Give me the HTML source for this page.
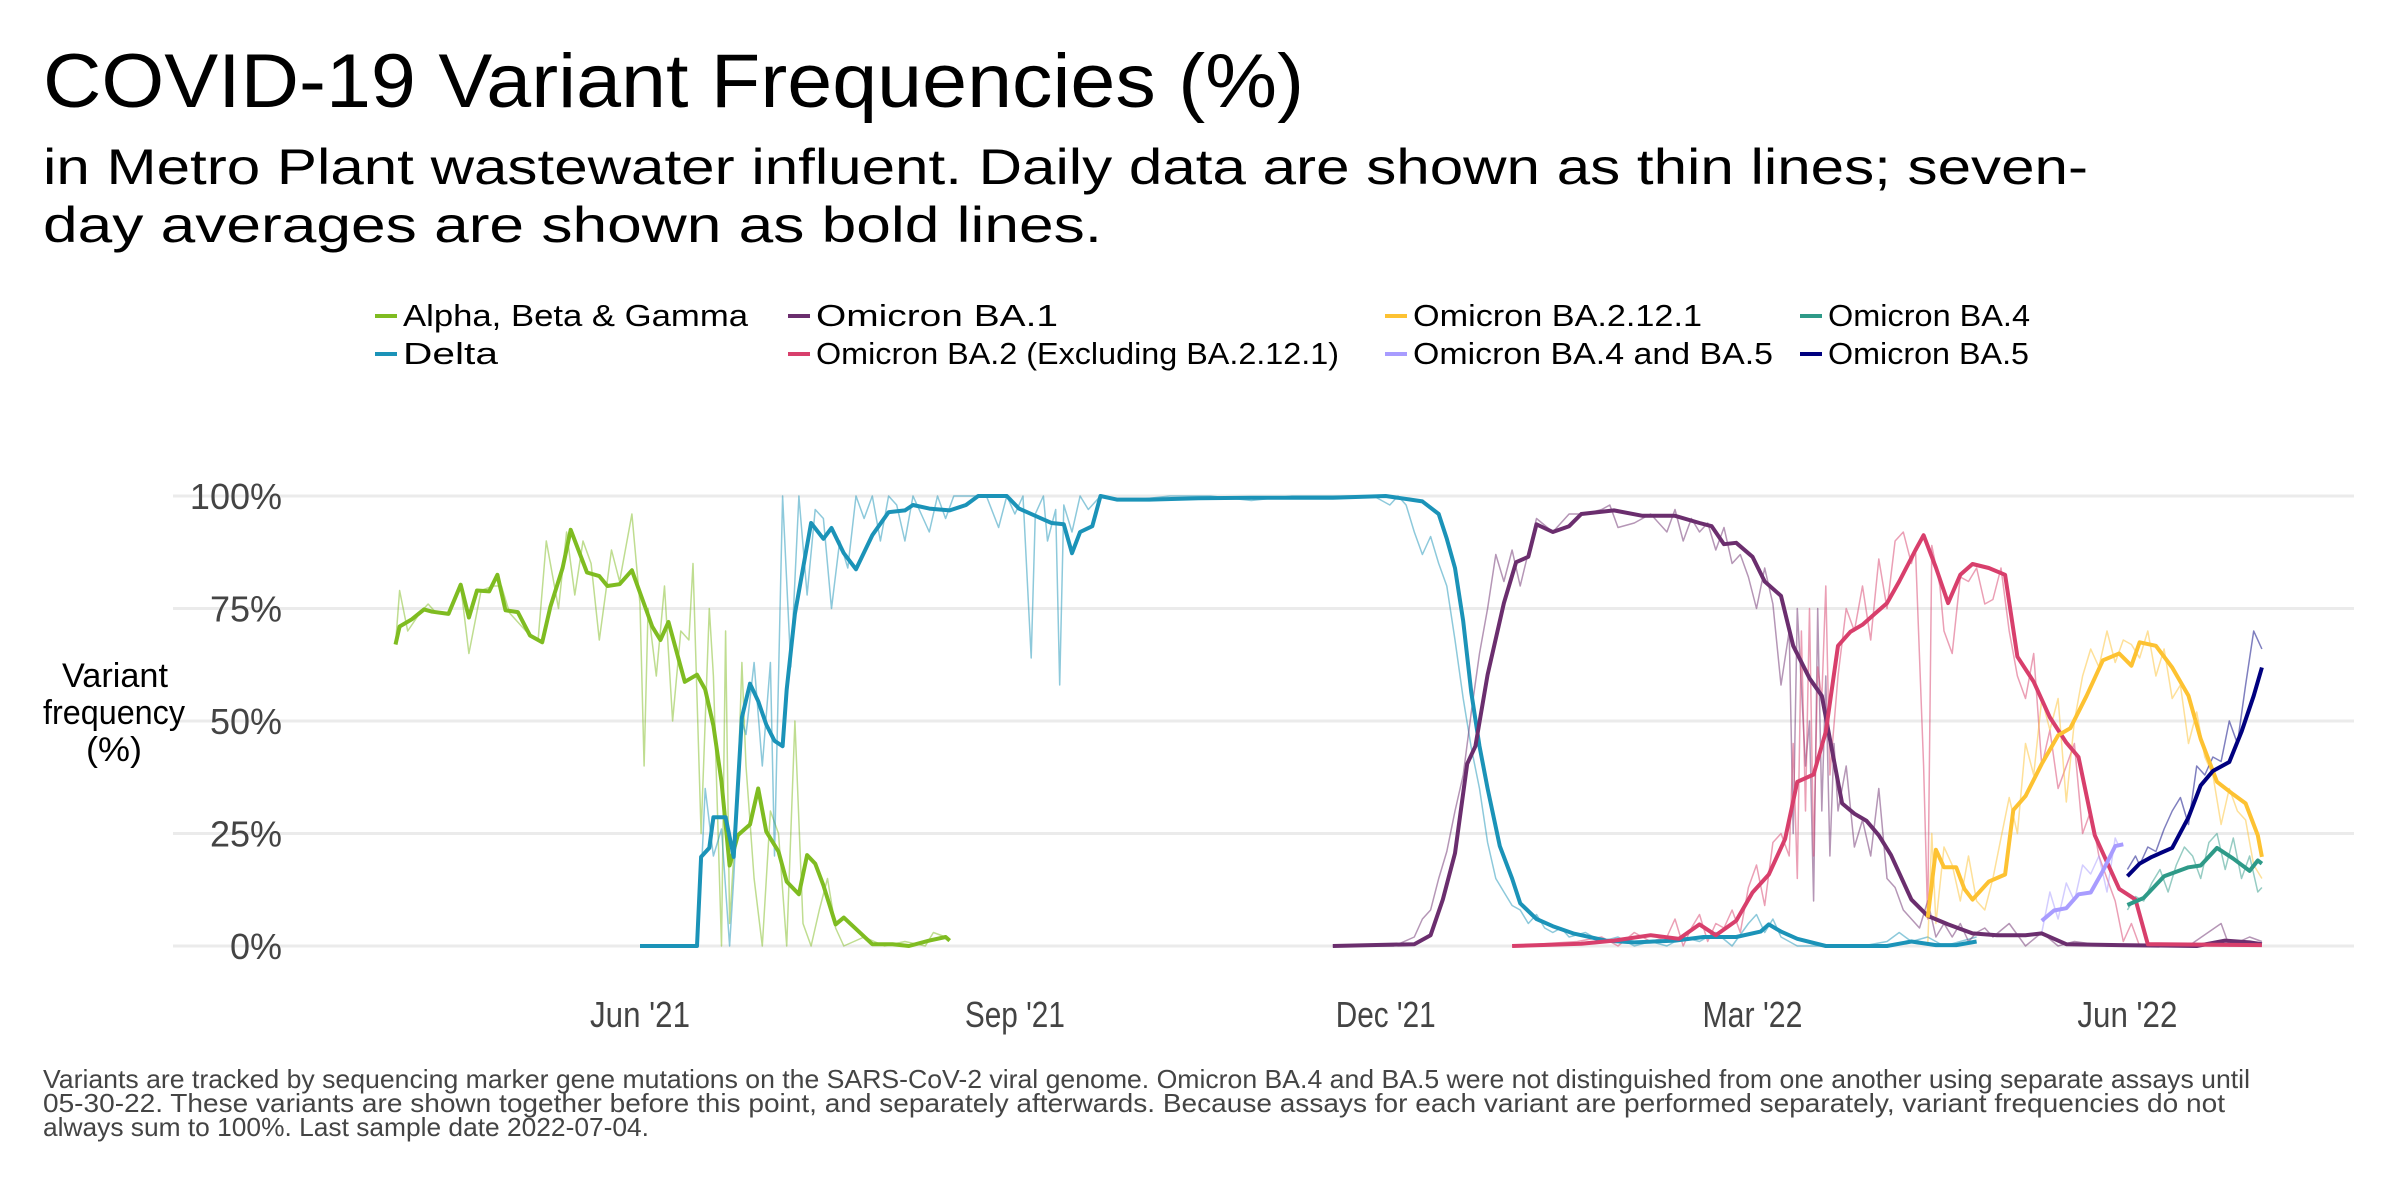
<!DOCTYPE html>
<html><head><meta charset="utf-8"><style>
html,body{margin:0;padding:0;background:#fff;}
svg{display:block;font-family:"Liberation Sans",Arial,sans-serif;}
</style></head><body>
<svg id="chart" width="2400" height="1200" viewBox="0 0 2400 1200">
<text x="43" y="107" font-size="76" fill="#000" textLength="1261" lengthAdjust="spacingAndGlyphs">COVID-19 Variant Frequencies (%)</text>
<text x="43" y="184" font-size="50" fill="#000" textLength="2045" lengthAdjust="spacingAndGlyphs">in Metro Plant wastewater influent. Daily data are shown as thin lines; seven-</text>
<text x="43" y="242" font-size="50" fill="#000" textLength="1059" lengthAdjust="spacingAndGlyphs">day averages are shown as bold lines.</text>
<g id="legend"></g>
<g id="grid"></g>
<g id="yticks"></g>
<g id="xticks"></g>
<g font-size="34" fill="#000" text-anchor="middle">
<text x="115" y="687" textLength="106" lengthAdjust="spacingAndGlyphs">Variant</text>
<text x="114" y="724" textLength="142" lengthAdjust="spacingAndGlyphs">frequency</text>
<text x="114" y="761" textLength="56" lengthAdjust="spacingAndGlyphs">(%)</text>
</g>
<g id="daily"></g>
<g id="avg"></g>
<g font-size="26" fill="#444">
<text x="43" y="1088" textLength="2207" lengthAdjust="spacingAndGlyphs">Variants are tracked by sequencing marker gene mutations on the SARS-CoV-2 viral genome. Omicron BA.4 and BA.5 were not distinguished from one another using separate assays until</text>
<text x="43" y="1112" textLength="2182" lengthAdjust="spacingAndGlyphs">05-30-22. These variants are shown together before this point, and separately afterwards. Because assays for each variant are performed separately, variant frequencies do not</text>
<text x="43" y="1136" textLength="606" lengthAdjust="spacingAndGlyphs">always sum to 100%. Last sample date 2022-07-04.</text>
</g>
</svg>
<script>
// Days since 2021-06-01 and frequency (%)
const yTicks = [0, 25, 50, 75, 100];
const yTickLabels = ["0%", "25%", "50%", "75%", "100%"];
const xTickDays = [0, 92, 183, 273, 365];
const xTickLabels = ["Jun '21", "Sep '21", "Dec '21", "Mar '22", "Jun '22"];

const alphaAvgDays = [-60,-59,-56,-53,-51,-47,-44,-42,-40,-37,-35,-33,-30,-27,-24,-22,-19,-17,-13,-10,-8,-5,-2,1,3,5,7,11,14,16,18,20,22,24,27,29,31,34,36,39,41,43,45,48,50,57,62,66,71,75,76];
const alphaAvgVals = [67,71,72.6,74.8,74.3,73.8,80.3,73,79,78.8,82.5,74.6,74.2,69,67.5,75.4,84,92.5,83,82.2,80,80.4,83.5,76,71,68,72,58.7,60.3,57,49,36.5,17.9,24.6,27,35,25.4,21,14.3,11.5,20.2,18.3,13.5,4.8,6.3,0.4,0.4,0,1.2,2,1.2];
const alphaDailyDays = [-60,-59,-57,-54,-52,-50,-47,-44,-42,-39,-36,-34,-32,-28,-25,-23,-20,-18,-16,-14,-12,-10,-7,-5,-2,0,1,2,4,6,8,10,12,13,15,17,18,20,21,22,24,25,26,28,30,32,34,36,38,40,42,44,46,48,50,55,60,65,70,72,75];
const alphaDailyVals = [67,79,70,74,76,74,74,80,65,79,80,80,74,70,68,90,75,92,78,90,85,68,88,81,96,76,40,75,60,80,50,70,68,85,25,75,60,0,70,5,35,63,40,15,0,30,25,0,50,5,0,8,15,4,0,2,0,1,0,3,2];

const deltaAvgDays = [0,14,15,17,18,21,23,25,27,29,31,33,35,36,38,42,45,47,50,53,57,61,65,67,71,76,80,83,90,93,97,99,101,104,106,108,111,113,117,125,137,150,170,183,192,196,198,200,202,204,206,208,211,214,216,220,224,229,237,244,254,261,269,275,277,280,284,291,306,312,318,323,328];
const deltaAvgVals = [0,0,19.8,21.8,28.6,28.6,19.8,50.8,58.3,54.4,49.2,45.6,44.4,57,73.8,94,90.5,92.9,87.3,83.7,91.3,96.4,96.8,98,97.2,96.8,98,100,100,97.2,95.6,94.8,94,93.7,87.3,92,93.3,100,99.2,99.2,99.5,99.6,99.6,100,98.8,96,90.5,84,72.2,56.3,44.4,35,22.2,15,9.5,6,4.4,2.8,1.2,0.8,1.2,2,2,3.2,4.8,3.2,1.6,0,0,1,0.2,0.2,1];
const deltaDailyDays = [0,14,15,16,18,20,22,23,25,26,28,30,32,33,35,37,39,41,43,45,47,49,51,53,55,57,59,61,63,65,67,69,71,73,75,77,80,85,88,90,92,94,96,97,99,100,102,103,104,106,108,110,113,120,130,140,150,160,170,180,184,186,188,190,192,194,196,198,200,202,204,206,208,210,212,214,216,218,220,222,224,226,228,232,236,240,244,248,252,256,260,264,268,272,274,276,278,280,284,290,300,306,309,312,316,320,324,328];
const deltaDailyVals = [0,0,15,35,20,26,0,15,50,47,63,40,63,20,100,62,100,78,97,95,75,90,84,100,95,100,90,100,98,90,100,96,92,100,95,100,100,100,93,100,96,100,64,96,100,90,97,58,98,92,100,97,100,99,100,100,99,100,100,100,98,100,98,92,87,91,85,80,68,55,44,35,23,15,12,9,8,5,7,4,3,4,2,3,1,2,0,1,0,2,1,3,0,5,7,3,6,2,0,0,0,1,3,1,2,0,1,2];

const ba1AvgDays = [170,190,194,197,200,203,205,208,212,215,218,220,224,228,231,239,246,254,260,263,266,269,273,276,280,283,287,290,292,295,298,301,304,307,312,316,321,327,333,340,344,350,363,382,389,395,398];
const ba1AvgVals = [0,0.4,2.4,10.3,20.6,40.5,44.4,60.3,76.2,85.3,86.5,93.7,92,93.3,96,96.8,95.6,95.6,94,93.3,89.3,89.6,86.5,81,77.8,66.7,59.5,55.6,46,31.7,29.4,27.8,24.6,20.2,10.3,6.7,4.8,2.8,2.4,2.4,2.8,0.4,0.2,0,1.2,0.8,0.4];
const ba1DailyDays = [170,185,190,192,194,196,198,200,202,204,206,208,210,212,214,216,220,224,228,232,236,238,240,244,248,252,254,256,258,260,262,264,266,268,270,272,274,276,278,280,282,283,284,286,287,288,289,290,291,292,293,294,296,298,300,302,304,306,308,310,312,314,316,318,320,322,324,326,328,330,332,336,340,344,348,352,360,370,380,388,390,395,398];
const ba1DailyVals = [0,0,2,6,8,15,21,30,38,52,65,75,87,81,88,80,95,92,96,96,97,98,93,94,96,92,97,90,95,92,94,88,93,85,87,82,75,84,76,58,70,25,75,40,50,10,75,30,60,20,45,30,40,22,28,20,35,15,13,8,6,4,10,2,5,2,5,1,3,4,2,5,0,3,0,1,0,0,0,5,0,2,1];

const ba2AvgDays = [214,231,239,248,255,260,264,269,273,277,281,284,288,291,294,297,300,303,306,309,313,315,318,321,324,327,331,335,338,342,346,350,353,357,363,367,370,398];
const ba2AvgVals = [0,0.5,1.2,2.4,1.6,4.8,2.4,5.6,11.9,15.9,23.8,36.5,38.1,47.6,66.7,69.8,71.4,73.8,76.2,81,88,91.3,84.1,76.2,82.5,84.9,84,82.5,64.3,58.7,50.8,45.2,42,24.6,12.7,10.3,0.4,0.2];
const ba2DailyDays = [214,230,236,240,244,248,252,254,256,258,260,262,264,266,268,270,272,274,276,278,280,282,283,284,285,286,287,288,289,290,291,292,294,296,298,300,302,304,306,308,310,312,313,315,316,317,319,320,322,324,326,328,330,332,334,336,338,340,342,344,346,348,350,352,354,356,358,360,362,364,366,368,380,398];
const ba2DailyVals = [0,1,2,0,3,1,2,6,0,4,7,1,5,4,8,3,13,18,9,23,25,20,45,15,70,30,75,20,62,55,80,38,60,75,70,80,68,86,75,90,92,85,88,40,6,89,80,70,65,82,81,84,76,77,84,70,60,55,65,40,48,35,40,45,25,30,20,15,10,1,5,0,0,0];

const ba2121AvgDays = [316,318,320,323,325,327,331,335,337,340,344,348,351,355,359,363,366,368,372,376,380,383,387,391,394,397,398];
const ba2121AvgVals = [6.3,21.4,17.5,17.5,12.7,10.3,14.3,15.9,30.2,33.3,40.5,46.8,48.4,55.6,63.5,65,62.3,67.5,66.7,61.9,55.6,46,36.5,33.7,31.7,24.6,19.8];
const ba2121DailyDays = [316,317,318,320,322,324,326,328,330,332,334,336,338,340,342,344,346,348,350,352,354,356,358,360,362,364,366,368,370,372,374,376,378,380,382,384,386,388,390,392,394,396,398];
const ba2121DailyVals = [0,25,5,22,18,10,20,10,8,15,24,33,25,45,38,55,48,55,32,50,60,66,62,70,63,68,67,64,70,60,66,55,58,45,52,42,38,27,35,30,28,18,15];

const ba45AvgDays = [344,347,350,353,356,359,362,364];
const ba45AvgVals = [5.6,7.9,8.4,11.5,11.9,16.7,22.2,22.6];
const ba45DailyDays = [344,346,348,350,352,354,356,358,360,362,363];
const ba45DailyVals = [3,12,6,14,10,18,16,20,12,24,22];

const ba5AvgDays = [365,368,371,376,380,383,386,390,393,396,398];
const ba5AvgVals = [15.5,18.3,19.8,21.8,28.6,35.7,38.9,40.9,47.6,55.6,61.9];
const ba5DailyDays = [365,367,368,370,372,374,376,378,380,382,384,386,388,390,392,394,396,398];
const ba5DailyVals = [17,20,18,22,21,26,30,33,27,40,38,42,41,50,45,58,70,66];

const ba4AvgDays = [365,369,374,380,383,387,391,395,397,398];
const ba4AvgVals = [9.1,10.7,15.5,17.5,17.9,21.8,19.4,16.7,19,18.3];
const ba4DailyDays = [365,367,369,371,373,375,377,379,381,383,385,387,389,391,393,395,397,398];
const ba4DailyVals = [8,11,10,14,17,12,18,22,20,15,23,25,17,24,15,20,12,13];

const legendLabels = ["Alpha, Beta & Gamma","Delta","Omicron BA.1","Omicron BA.2 (Excluding BA.2.12.1)","Omicron BA.2.12.1","Omicron BA.4 and BA.5","Omicron BA.4","Omicron BA.5"];
const legendColors = ["#7fbc21","#1b93b8","#6b2e6e","#d83f6c","#fdc232","#a89cff","#2e9a88","#00007f"];

const NS = "http://www.w3.org/2000/svg";
function xScale(d){ return 640 + d * 4.075; }
function yScale(v){ return 946 - v * 4.5; }
function mk(tag, attrs, parent){
  const e = document.createElementNS(NS, tag);
  for (const k in attrs) e.setAttribute(k, attrs[k]);
  parent.appendChild(e);
  return e;
}

// gridlines and y ticks
const grid = document.getElementById('grid');
const yt = document.getElementById('yticks');
yTicks.forEach((v, i) => {
  const l = mk('line', {x1:173, x2:2354, y1:yScale(v), y2:yScale(v), stroke:'#ebebeb', 'stroke-width':3}, grid);
  
  
  const t = mk('text', {x:282, y:yScale(v)+13, 'text-anchor':'end', 'font-size':36, fill:'#444'}, yt);
  t.textContent = yTickLabels[i];
  
  
});
const xt = document.getElementById('xticks');
xTickDays.forEach((d, i) => {
  const t = mk('text', {x:xScale(d), y:1027, 'text-anchor':'middle', 'font-size':36, fill:'#444', textLength:100, lengthAdjust:'spacingAndGlyphs'}, xt);
  t.textContent = xTickLabels[i];
  
  
});

function pts(days, vals){ return days.map((d,i)=> xScale(d).toFixed(1)+','+yScale(vals[i]).toFixed(1)).join(' '); }
const dailyG = document.getElementById('daily');
const avgG = document.getElementById('avg');
const series = [
  ['alpha', alphaDailyDays, alphaDailyVals, alphaAvgDays, alphaAvgVals, legendColors[0]],
  ['delta', deltaDailyDays, deltaDailyVals, deltaAvgDays, deltaAvgVals, legendColors[1]],
  ['omicron-ba1', ba1DailyDays, ba1DailyVals, ba1AvgDays, ba1AvgVals, legendColors[2]],
  ['omicron-ba2', ba2DailyDays, ba2DailyVals, ba2AvgDays, ba2AvgVals, legendColors[3]],
  ['omicron-ba2121', ba2121DailyDays, ba2121DailyVals, ba2121AvgDays, ba2121AvgVals, legendColors[4]],
  ['omicron-ba4-ba5', ba45DailyDays, ba45DailyVals, ba45AvgDays, ba45AvgVals, legendColors[5]],
  ['omicron-ba4', ba4DailyDays, ba4DailyVals, ba4AvgDays, ba4AvgVals, legendColors[6]],
  ['omicron-ba5', ba5DailyDays, ba5DailyVals, ba5AvgDays, ba5AvgVals, legendColors[7]]
];
series.forEach(s => {
  const p1 = mk('polyline', {points:pts(s[1], s[2]), fill:'none', stroke:s[5], 'stroke-width':1.5, 'stroke-opacity':0.5, 'stroke-linejoin':'round'}, dailyG);
  
  
});
series.forEach(s => {
  const p2 = mk('polyline', {points:pts(s[3], s[4]), fill:'none', stroke:s[5], 'stroke-width':4, 'stroke-linejoin':'round'}, avgG);
  
  
});

// legend
const lg = document.getElementById('legend');
const legPos = [[375,326,345],[375,364,95],[788,326,242],[788,364,523],[1385,326,289],[1385,364,360],[1800,326,202],[1800,364,201]];
legendLabels.forEach((lab, i) => {
  const [x, y, w] = legPos[i];
  const g = mk('g', {}, lg);
  
  
  mk('line', {x1:x, x2:x+22, y1:y-10, y2:y-10, stroke:legendColors[i], 'stroke-width':4}, g);
  const t = mk('text', {x:x+28, y:y, 'font-size':31, fill:'#000', textLength:w, lengthAdjust:'spacingAndGlyphs'}, g);
  t.textContent = lab;
});
</script>
</body></html>
